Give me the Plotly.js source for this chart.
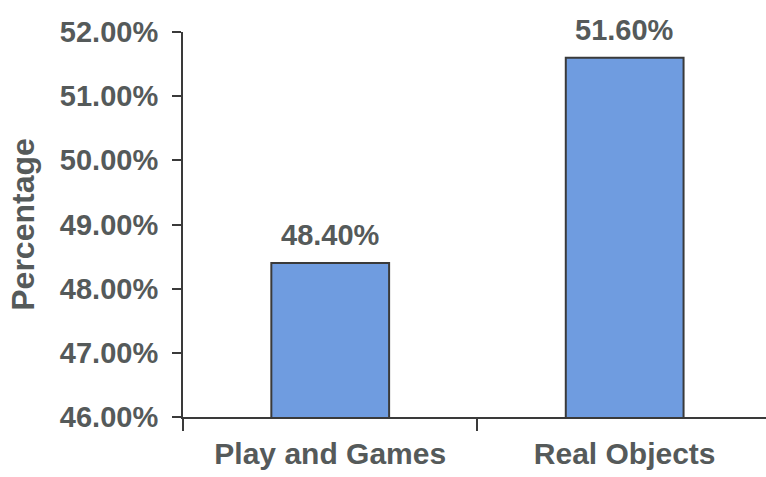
<!DOCTYPE html>
<html>
<head>
<meta charset="utf-8">
<script src="https://cdn.plot.ly/plotly-3.0.1.min.js"></script>
<style>html,body{margin:0;padding:0;background:#fff;}#chart{width:766px;height:477px;}</style>
</head>
<body>
<div id="chart"></div>
<script>
var categories = ["Play and Games", "Real Objects"];
var percentages = [48.40, 51.60];
var yTickValues = [46, 47, 48, 49, 50, 51, 52];

var textColor = "#555a5a";
var fontFamily = "Liberation Sans, Arial, sans-serif";

var trace = {
  type: "bar",
  x: categories,
  y: percentages,
  width: 0.4,
  marker: {color: "#6f9ce0", line: {color: "#3a3a3a", width: 2}},
  hoverinfo: "none"
};

var annotations = categories.map(function (c, i) {
  return {
    x: c, y: percentages[i], xref: "x", yref: "y",
    text: percentages[i].toFixed(2) + "%",
    showarrow: false, yanchor: "bottom", yshift: 10,
    font: {family: fontFamily, size: 29, color: textColor, weight: "bold"}
  };
});

var layout = {
  width: 766, height: 477,
  margin: {l: 183, r: 0, t: 32, b: 60},
  paper_bgcolor: "#fff", plot_bgcolor: "#fff",
  showlegend: false,
  font: {family: fontFamily, color: textColor},
  xaxis: {
    type: "category",
    range: [-0.5, 1.48],
    showline: true, linecolor: "#3a3a3a", linewidth: 2,
    showgrid: false, zeroline: false,
    ticks: "outside", tickson: "boundaries", ticklen: 12, tickwidth: 2, tickcolor: "#3a3a3a",
    ticklabelstandoff: 9,
    tickfont: {family: fontFamily, size: 30, color: textColor, weight: "bold"}
  },
  yaxis: {
    range: [46, 52],
    automargin: true,
    tickvals: yTickValues,
    ticktext: yTickValues.map(function (v) { return v.toFixed(2) + "%"; }),
    showline: true, linecolor: "#3a3a3a", linewidth: 2,
    showgrid: false, zeroline: false,
    ticks: "outside", ticklen: 9, tickwidth: 2, tickcolor: "#3a3a3a",
    ticklabelstandoff: 8,
    tickfont: {family: fontFamily, size: 29, color: textColor, weight: "bold"},
    title: {text: "Percentage", standoff: 16, font: {family: fontFamily, size: 32, color: textColor, weight: "bold"}}
  },
  annotations: annotations
};

Plotly.newPlot("chart", [trace], layout, {displayModeBar: false, staticPlot: true});
</script>
</body>
</html>
